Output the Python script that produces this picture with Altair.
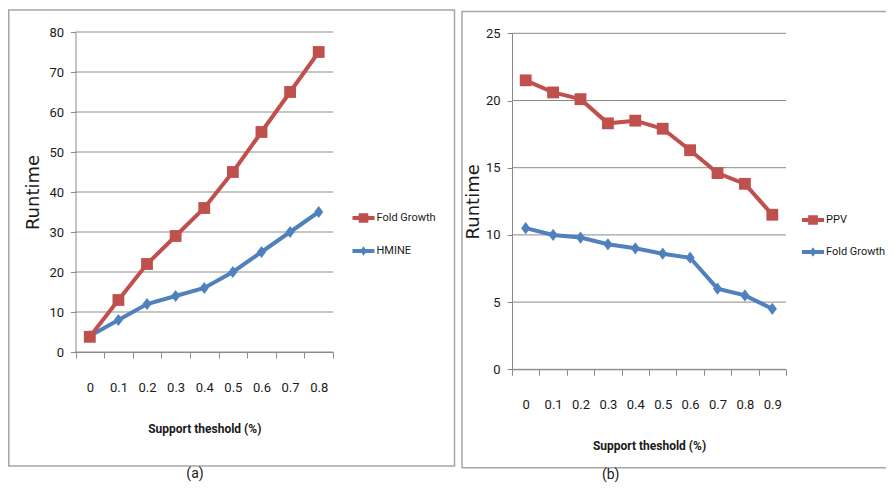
import altair as alt
import pandas as pd

# ---------------- data ----------------
support_a = ["0", "0.1", "0.2", "0.3", "0.4", "0.5", "0.6", "0.7", "0.8"]
fold_growth_a = [3.8, 13, 22, 29, 36, 45, 55, 65, 75]
hmine_a = [4, 8, 12, 14, 16, 20, 25, 30, 35]
names_a = ["Fold Growth", "HMINE"]
yticks_a = [0, 10, 20, 30, 40, 50, 60, 70, 80]

support_b = ["0", "0.1", "0.2", "0.3", "0.4", "0.5", "0.6", "0.7", "0.8", "0.9"]
ppv_b = [21.5, 20.6, 20.1, 18.3, 18.5, 17.9, 16.3, 14.6, 13.8, 11.5]
fold_growth_b = [10.5, 10.0, 9.8, 9.3, 9.0, 8.6, 8.3, 6.0, 5.5, 4.5]
names_b = ["PPV", "Fold Growth"]
yticks_b = [0, 5, 10, 15, 20, 25]

# ---------------- style ----------------
RED = "#C0504D"
BLUE = "#4F81BD"
GRID = "#8a8a8a"
FRAME = "#a6a6a6"
TXT = "#1a1a1a"
FONT = "Roboto, Liberation Sans, sans-serif"
WIDE = "DejaVu Sans, Verdana, sans-serif"

DIAMOND = "M0,-1L0.75,0L0,1L-0.75,0Z"
LEG_SQUARE = "M-1,-0.18H1V0.18H-1Z M-0.44,-0.44H0.44V0.44H-0.44Z"
LEG_DIAMOND = "M-1,-0.18H1V0.18H-1Z M0,-0.44L0.3,0L0,0.44L-0.3,0Z"

TOTAL_W, TOTAL_H = 878, 475   # whole canvas (page origin at 8,8)


def panel(xs, names, s1, s2, yticks, xr, yr, legend_xy, row_pad, ytitle_x, border, caption, cap_xy):
    df = pd.DataFrame({
        "support": xs + xs,
        "series": [names[0]] * len(xs) + [names[1]] * len(xs),
        "runtime": s1 + s2,
    })
    grid_df = pd.DataFrame({"runtime": yticks})
    one = pd.DataFrame({"k": [0]})
    base = alt.Chart(df)

    x = alt.X(
        "support:N", sort=xs,
        scale=alt.Scale(type="band", range=list(xr), paddingInner=0, paddingOuter=0),
        axis=alt.Axis(
            orient="bottom", offset=yr[0] - TOTAL_H,
            title="Support theshold (%)", labelAngle=0, tickBand="extent", tickSize=6,
            labelPadding=29, labelBaseline="middle", labelFont=FONT, labelFontSize=13,
            labelColor=TXT, grid=False, domainColor=GRID, tickColor=GRID,
            titleFont=FONT, titleFontSize=12, titleFontWeight="bold", titleColor=TXT,
            titleX=(xr[0] + xr[1]) / 2, titleY=76, titleBaseline="middle",
        ),
    )
    y = alt.Y(
        "runtime:Q",
        scale=alt.Scale(domain=[yticks[0], yticks[-1]], range=list(yr), nice=False),
        axis=alt.Axis(
            orient="left", offset=-xr[0],
            title="Runtime", values=yticks, grid=False,
            domainColor=GRID, tickColor=GRID, tickSize=5, labelPadding=7,
            labelFont=FONT, labelFontSize=13, labelColor=TXT,
            titleFont=WIDE, titleFontSize=18, titleFontWeight="normal", titleColor=TXT,
            titleX=ytitle_x, titleY=(yr[0] + yr[1]) / 2, titleBaseline="middle",
            titleAngle=-90, titleAlign="center",
        ),
    )

    bx1, bx2, by1, by2 = border
    frame = alt.Chart(one).mark_rect(fillOpacity=0, stroke=FRAME, strokeWidth=1.5).encode(
        x=alt.value(bx1), x2=alt.value(bx2), y=alt.value(by1), y2=alt.value(by2))

    grid = alt.Chart(grid_df).mark_rule(color=GRID, strokeWidth=1).encode(
        y=y, x=alt.value(xr[0]), x2=alt.value(xr[1]))

    def series_layers(name, color, shape, size):
        d = base.transform_filter(alt.datum.series == name)
        return [
            d.mark_line(color=color, strokeWidth=4).encode(x=x, y=y),
            d.mark_point(shape=shape, filled=True, size=size, color=color, opacity=1).encode(x=x, y=y),
        ]

    lay = []
    lay += series_layers(names[1], BLUE, DIAMOND, 150)
    lay += series_layers(names[0], RED, "square", 140)

    leg = alt.Legend(
        title=None, orient="none", direction="vertical",
        legendX=legend_xy[0], legendY=legend_xy[1], symbolSize=484, symbolOpacity=1,
        symbolStrokeWidth=0, labelFont=FONT, labelFontSize=11, labelColor=TXT,
        rowPadding=row_pad, labelOffset=2, padding=0,
    )
    legend_layer = base.mark_point(filled=True, opacity=0).encode(
        x=x, y=y,
        color=alt.Color("series:N", scale=alt.Scale(domain=names, range=[RED, BLUE]), legend=leg),
        shape=alt.Shape("series:N", scale=alt.Scale(domain=names, range=[LEG_SQUARE, LEG_DIAMOND]), legend=leg),
    )

    cap = alt.Chart(one).mark_text(text=caption, font=FONT, fontSize=14, color=TXT).encode(
        x=alt.value(cap_xy[0]), y=alt.value(cap_xy[1]))

    return alt.layer(frame, grid, *lay, legend_layer, cap)


# pixel geometry relative to the canvas origin (page x-8, y-8)
pa = panel(support_a, names_a, fold_growth_a, hmine_a, yticks_a,
           xr=(67.5, 325), yr=(344, 24), legend_xy=(344.5, 199), row_pad=17, ytitle_x=-42.5,
           border=(0.75, 446.5, 2, 458), caption="(a)", cap_xy=(187, 466))
pb = panel(support_b, names_b, ppv_b, fold_growth_b, yticks_b,
           xr=(504, 778), yr=(361.3, 25.3), legend_xy=(794, 201), row_pad=16, ytitle_x=-39,
           border=(454, 905, 3.5, 459.7), caption="(b)", cap_xy=(602.7, 467))

chart = alt.layer(pa, pb).resolve_scale(
    x="independent", y="independent", color="independent", shape="independent"
).properties(
    width=TOTAL_W, height=TOTAL_H,
    autosize=alt.AutoSizeParams(type="none"),
    padding=0,
    background="white",
).configure_view(stroke=None)

chart.save("out.html", embed_options={"renderer": "svg", "actions": False})
